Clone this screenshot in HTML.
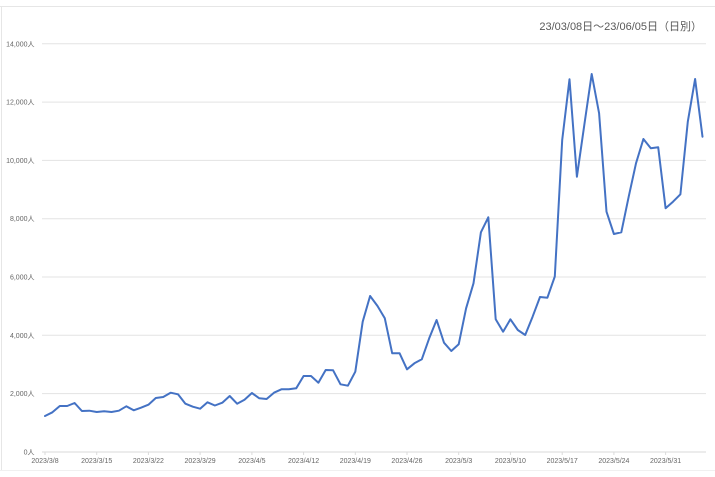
<!DOCTYPE html>
<html><head><meta charset="utf-8">
<style>
html,body{margin:0;padding:0;background:#fff;}
svg{display:block;}
text{font-family:"Liberation Sans","Noto Sans CJK JP",sans-serif;}
</style></head>
<body>
<svg width="715" height="477" viewBox="0 0 715 477" xmlns="http://www.w3.org/2000/svg">
<rect x="0" y="0" width="715" height="477" fill="#fff"/>
<!-- frame -->
<line x1="0" y1="6.5" x2="715" y2="6.5" stroke="#e6e6e6" stroke-width="1"/>
<line x1="1.5" y1="6" x2="1.5" y2="470" stroke="#e6e6e6" stroke-width="1"/>
<line x1="0" y1="470.5" x2="715" y2="470.5" stroke="#f0f0f0" stroke-width="1"/>
<!-- title -->
<text x="702" y="30" font-size="11" fill="#595959" text-anchor="end">23/03/08日～23/06/05日（日別）</text>
<!-- gridlines -->
<g stroke="#e3e3e3" stroke-width="1">
<line x1="42" y1="43.8" x2="706" y2="43.8"/>
<line x1="42" y1="102.1" x2="706" y2="102.1"/>
<line x1="42" y1="160.4" x2="706" y2="160.4"/>
<line x1="42" y1="218.7" x2="706" y2="218.7"/>
<line x1="42" y1="277.0" x2="706" y2="277.0"/>
<line x1="42" y1="335.3" x2="706" y2="335.3"/>
<line x1="42" y1="393.6" x2="706" y2="393.6"/>
<line x1="42" y1="452" x2="706" y2="452" stroke="#dadada"/>
</g>
<g stroke="#dadada" stroke-width="1">
<line x1="45" y1="452" x2="45" y2="455"/>
<line x1="96.7" y1="452" x2="96.7" y2="455"/>
<line x1="148.4" y1="452" x2="148.4" y2="455"/>
<line x1="200.1" y1="452" x2="200.1" y2="455"/>
<line x1="251.9" y1="452" x2="251.9" y2="455"/>
<line x1="303.6" y1="452" x2="303.6" y2="455"/>
<line x1="355.3" y1="452" x2="355.3" y2="455"/>
<line x1="407" y1="452" x2="407" y2="455"/>
<line x1="458.7" y1="452" x2="458.7" y2="455"/>
<line x1="510.4" y1="452" x2="510.4" y2="455"/>
<line x1="562.2" y1="452" x2="562.2" y2="455"/>
<line x1="613.9" y1="452" x2="613.9" y2="455"/>
<line x1="665.6" y1="452" x2="665.6" y2="455"/>
</g>
<!-- y labels -->
<g font-size="7" fill="#666" text-anchor="end">
<text x="34.5" y="46.3">14,000人</text>
<text x="34.5" y="104.6">12,000人</text>
<text x="34.5" y="162.9">10,000人</text>
<text x="34.5" y="221.2">8,000人</text>
<text x="34.5" y="279.5">6,000人</text>
<text x="34.5" y="337.8">4,000人</text>
<text x="34.5" y="396.1">2,000人</text>
<text x="34.5" y="454.5">0人</text>
</g>
<!-- x labels -->
<g font-size="7" fill="#666" text-anchor="middle">
<text x="45" y="463">2023/3/8</text>
<text x="96.7" y="463">2023/3/15</text>
<text x="148.4" y="463">2023/3/22</text>
<text x="200.1" y="463">2023/3/29</text>
<text x="251.9" y="463">2023/4/5</text>
<text x="303.6" y="463">2023/4/12</text>
<text x="355.3" y="463">2023/4/19</text>
<text x="407" y="463">2023/4/26</text>
<text x="458.7" y="463">2023/5/3</text>
<text x="510.4" y="463">2023/5/10</text>
<text x="562.2" y="463">2023/5/17</text>
<text x="613.9" y="463">2023/5/24</text>
<text x="665.6" y="463">2023/5/31</text>
</g>
<!-- series -->
<polyline fill="none" stroke="#4472C4" stroke-width="2" stroke-linejoin="round" stroke-linecap="round" points="
45.0,416 52.4,412.3 59.8,406 67.2,406 74.6,403 81.9,411 89.3,410.7 96.7,412 104.1,411.3 111.5,412
118.9,410.7 126.3,406.3 133.7,410.3 141.0,407.7 148.4,404.7 155.8,398 163.2,397 170.6,392.7 178.0,394.3 185.4,403.7
192.8,406.7 200.1,408.7 207.5,402.3 214.9,405.5 222.3,402.7 229.7,396 237.1,403.7 244.5,399.7 251.9,393 259.3,398.3
266.6,399 274.0,392.7 281.4,389.3 288.8,389.3 296.2,388.3 303.6,376 311.0,376 318.4,382.7 325.7,370 333.1,370.3
340.5,384.3 347.9,385.7 355.3,371.7 362.7,321.7 370.1,296 377.5,306 384.8,318.3 392.2,353.3 399.6,353.3 407.0,369.3
414.4,363.3 421.8,359.3 429.2,338.3 436.6,320 444.0,342.7 451.3,351 458.7,344.3 466.1,308.3 473.5,283.3 480.9,232.3
488.3,217.3 495.7,319.3 503.1,331.7 510.4,319.3 517.8,330 525.2,335 532.6,316.7 540.0,297 547.4,297.7 554.8,276.5
562.2,140 569.5,79.3 576.9,176.7 584.3,125 591.7,74 599.1,113.3 606.5,211.7 613.9,234 621.3,232.3 628.7,196.7
636.0,163.3 643.4,139 650.8,148.3 658.2,147.3 665.6,208.3 673.0,201.7 680.4,194.3 687.8,121.7 695.1,79 702.5,136.7"/>
</svg>
</body></html>
